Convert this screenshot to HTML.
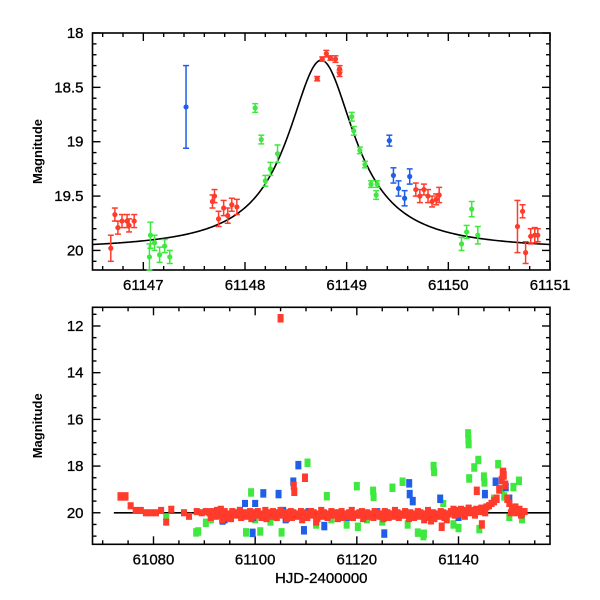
<!DOCTYPE html>
<html><head><meta charset="utf-8"><style>
html,body{margin:0;padding:0;background:#fff;}
svg{display:block;font-family:"Liberation Sans","DejaVu Sans",sans-serif;}
</style></head><body>
<svg id="chart" width="600" height="600" viewBox="0 0 600 600" xmlns="http://www.w3.org/2000/svg">
<rect width="600" height="600" fill="#fff"/>
</svg>
<script>
// ---------- TOP PANEL DATA ----------
const topRedT=[61146.68,61146.72,61146.75,61146.79,61146.84,61146.86,61146.91,61147.68,61147.70,61147.74,61147.79,61147.83,61147.87,61147.92,61148.71,61148.76,61148.80,61148.84,61148.89,61148.93,61148.93,61149.68,61149.72,61149.76,61149.80,61149.84,61149.88,61149.91,61150.68,61150.73,61150.76,61150.81,61150.85,61150.88];
const topRedM=[19.98,19.67,19.79,19.73,19.73,19.77,19.73,19.55,19.50,19.71,19.61,19.68,19.58,19.60,18.42,18.24,18.19,18.23,18.24,18.33,18.37,19.44,19.50,19.44,19.50,19.55,19.53,19.49,19.78,19.64,20.02,19.87,19.86,19.86];
const topRedE=[0.12,0.06,0.06,0.06,0.06,0.06,0.06,0.06,0.06,0.07,0.07,0.07,0.06,0.07,0.02,0.02,0.03,0.02,0.03,0.03,0.03,0.06,0.06,0.05,0.06,0.05,0.05,0.07,0.24,0.06,0.1,0.07,0.07,0.06];
const topGreenT=[61148.10,61148.16,61148.20,61148.25,61148.32,61147.07,61147.06,61147.11,61147.16,61147.21,61147.26,61149.05,61149.07,61149.13,61149.18,61149.24,61149.30,61149.29,61150.13,61150.18,61150.23,61150.29];
const topGreenM=[18.69,18.98,19.36,19.25,19.11,19.86,20.06,19.93,20.04,19.96,20.06,18.77,18.90,19.08,19.21,19.39,19.39,19.49,19.94,19.83,19.62,19.86];
const topGreenE=[0.04,0.04,0.05,0.06,0.08,0.12,0.12,0.07,0.07,0.06,0.06,0.04,0.04,0.03,0.03,0.03,0.03,0.04,0.06,0.06,0.07,0.08];
const topBlueT=[61147.42,61149.42,61149.46,61149.51,61149.57,61149.62];
const topBlueM=[18.68,18.99,19.31,19.43,19.52,19.32];
const topBlueE=[0.38,0.05,0.07,0.07,0.07,0.07];
const modelBase=20.0, modelAmp=1.75, modelT0=61148.75, modelW=0.404;

// ---------- BOTTOM PANEL DATA ----------
const botRedT=[61073.5,61074.5,61075.5,61076.5,61077.5,61078.5,61079.5,61080.5,61081.5,61082.5,61083.5,61086,61087,61088.5,61089.5,61090.3,
61091,61091.5,61092,61092.5,61093,61093.5,61094,61094.5,61095,61095.5,61096,61096.5,61097,61097.5,61098,61098.5,61099,61099.5,61100,61100.5,
61101,61101.5,61102,61102.5,61103,61103.5,61104,61104.5,61105,61105.5,61106,61106.5,61107,61107.5,61108,61108.5,61109,61109.5,61110,61110.5,
61111,61111.5,61112,61112.5,61113,61113.5,61114,61114.5,61115,61115.5,61116,61116.5,61117,61117.5,61118,61118.5,61119,61119.5,61120,61120.5,
61121,61121.5,61122,61122.5,61123,61123.5,61124,61124.5,61125,61125.5,61126,61126.5,61127,61127.5,61128,61128.5,61129,61129.5,61130,61130.5,
61131,61131.5,61132,61132.5,61133,61133.5,61134,61134.5,61135,61135.5,61136,61136.5,61137,61137.5,61138,
61138.5,61139,61139.5,61140,61140.5,61141,61141.5,61142,61142.5,61143,61143.5,61144,61144.5,61145,61145.5,61146,
61146.5,61147,61147.5,61148,61148.5,61148.7,61148.8,61148.9,61149.2,61149.6,61150,61150.3,61150.5,61151,61151.2,61151.5,61152,61152.3,61152.5,61153,
61105,61109.8,61107.7,61107.6,61136.7,61134.6,61144.6,61143.6,61137.7,61093.5,61112];
const botRedM=[19.3,19.3,19.7,19.9,19.9,20.0,20.0,20.0,19.9,20.4,19.85,20.0,20.15,19.95,20.0,19.95,
20.0,19.95,20.05,19.9,20.1,20.0,19.95,20.05,20.1,19.95,
20.0,20.05,19.9,20.1,20.0,20.05,19.95,20.15,20.0,19.95,
20.05,20.1,19.9,20.0,20.05,19.95,20.1,20.0,19.9,20.05,
20.0,20.1,19.95,20.0,20.05,20.1,19.95,20.0,20.15,20.05,
19.95,20.0,20.1,20.05,19.9,20.0,20.05,20.1,19.95,20.0,
20.05,20.0,19.95,20.1,20.05,20.0,19.9,20.05,20.1,20.0,
19.95,20.05,20.0,20.1,20.05,19.95,20.0,20.15,20.05,19.95,
20.0,20.1,20.05,19.9,20.0,20.05,20.1,19.95,20.05,20.0,
20.1,20.05,19.95,20.0,20.1,20.05,19.9,20.05,20.0,20.1,
20.05,19.95,20.0,20.1,20.05,
19.95,19.85,20.0,19.9,19.85,19.95,19.9,19.8,19.95,19.9,19.85,19.9,19.8,19.85,19.75,19.7,
19.6,19.5,19.4,19.0,18.6,18.3,18.25,18.4,18.8,19.4,19.6,20.0,19.8,19.9,19.75,20.0,19.85,20.1,20.05,19.95,
11.67,18.5,19.1,18.85,20.6,20.35,20.5,19.06,20.3,20.3,20.4];
const botRed2T=[61091.25,61092.25,61093.25,61094.25,61095.25,61096.25,61097.25,61098.25,61099.25,61100.25,61101.25,61102.25,61103.25,61104.25,61105.25,61106.25,61107.25,61108.25,61109.25,61110.25,61111.25,61112.25,61113.25,61114.25,61115.25,61116.25,61117.25,61118.25,61119.25,61120.25,61121.25,61122.25,61123.25,61124.25,61125.25,61126.25,61127.25,61128.25,61129.25,61130.25,61131.25,61132.25,61133.25,61134.25,61135.25,61136.25,61137.25,61139.25,61140.25,61141.25,61142.25,61143.25,61144.25,61145.25];
const botRed2M=[20.2,20.15,19.85,20.2,20.25,20.1,20.2,20.15,20.25,20.1,20.2,20.25,20.15,20.2,20.1,20.25,20.2,20.15,20.3,20.2,20.1,20.25,20.15,20.2,20.1,20.25,20.2,20.15,20.2,20.1,20.25,20.15,20.2,20.1,20.25,20.2,20.15,20.2,20.1,20.25,20.2,20.15,20.3,20.2,20.25,20.15,20.2,20.1,20.05,20.15,20.0,20.1,19.95,20.0];
const botBlueT=[61093.6,61094,61097,61098,61099.5,61099.6,61100,61101.6,61102.5,61104.6,61105.5,61106,61107.5,61108.5,61109.6,61110.5,61113.6,61115,61118,61121,61124,61125.4,61126,61128,61130.3,61130.4,61131,61133,61136.4,61138,61140,61145.2,61146.5,61147.3,61149.3,61150,61152];
const botBlueM=[20.36,20.3,19.9,19.6,20.86,20.2,19.6,19.17,20.1,19.2,19.9,20.3,18.67,17.96,20.75,19.95,20.57,20.0,20.2,20.1,19.95,20.89,20.2,20.05,18.74,19.2,19.5,20.1,19.4,20.05,20.2,19.2,19.6,18.67,18.9,19.4,19.9];
const botGreenT=[61082.5,61088.4,61088.8,61090.3,61091.3,61095,61098.2,61099.2,61100,61101,61103,61105.2,61106,61110.3,61112,61114.1,61115,61118,61120,61120.2,61122,61123.2,61123.3,61125,61127,61129,61130,61132,61133.1,61133.2,61135.1,61135.2,61137,61139,61140,61141.9,61141.95,61142,61142.1,61143.1,61143.9,61144.1,61145,61145.1,61146,61147,61147.8,61148.5,61149,61150,61150.8,61151.9,61152.5];
const botGreenM=[20.17,20.84,20.8,20.43,20.3,20.2,20.84,19.13,20.3,20.8,20.4,20.84,20.2,17.86,20.5,19.29,20.3,20.5,18.86,20.6,20.3,19.06,19.32,20.4,18.93,18.67,20.5,20.85,21.0,20.9,18.0,18.25,19.6,20.5,20.65,16.6,16.86,17.06,18.53,18.06,17.74,20.7,18.45,18.7,19.7,19.4,17.92,19.0,19.3,20.2,18.9,18.63,20.3];

const topXTicks=["61147","61148","61149","61150","61151"];
const topYTicks=["18","18.5","19","19.5","20"];
const botXTicks=["61080","61100","61120","61140"];
const botYTicks=["12","14","16","18","20"];

const RED="#ff3b2b", GREEN="#3ee83e", BLUE="#1f5fe8";
const svg=document.getElementById('chart');
const NS="http://www.w3.org/2000/svg";
function mk(tag,attrs,parent){const e=document.createElementNS(NS,tag);for(const k in attrs)e.setAttribute(k,attrs[k]);(parent||svg).appendChild(e);return e;}

const L=92.5,R=550;
const pTop={t:33,b:270,x0:61146.5,x1:61151,y0:18,y1:20.18};
const pBot={t:307.3,b:544.3,x0:61068,x1:61158,y0:11.2,y1:21.35};
function sx(p,v){return L+(v-p.x0)/(p.x1-p.x0)*(R-L);}
function sy(p,v){return p.t+(v-p.y0)/(p.y1-p.y0)*(p.b-p.t);}

function axes(p,name,xMaj,xMin,yMaj,yMin,xLabels,yLabels){
  const g=mk('g',{});
  
  
  const f=mk('rect',{x:L,y:p.t,width:R-L,height:p.b-p.t,fill:'none',stroke:'#000','stroke-width':1.6},g);
  
  
  const eps=1e-6;
  const nx0=Math.ceil(p.x0/xMin-eps), nx1=Math.floor(p.x1/xMin+eps);
  for(let k=nx0;k<=nx1;k++){
    const v=k*xMin;
    const major=Math.abs(v/xMaj-Math.round(v/xMaj))<1e-4;const len=major?8:4;const x=sx(p,v);
    mk('line',{x1:x,x2:x,y1:p.b,y2:p.b-len,stroke:'#000','stroke-width':1.4},g);
    mk('line',{x1:x,x2:x,y1:p.t,y2:p.t+len,stroke:'#000','stroke-width':1.4},g);
  }
  const ny0=Math.ceil(p.y0/yMin-eps), ny1=Math.floor(p.y1/yMin+eps);
  for(let k=ny0;k<=ny1;k++){
    const v=k*yMin;
    const major=Math.abs(v/yMaj-Math.round(v/yMaj))<1e-4;const len=major?8:4;const y=sy(p,v);
    mk('line',{x1:L,x2:L+len,y1:y,y2:y,stroke:'#000','stroke-width':1.4},g);
    mk('line',{x1:R,x2:R-len,y1:y,y2:y,stroke:'#000','stroke-width':1.4},g);
  }
  xLabels.forEach(s=>{const t=mk('text',{x:sx(p,+s),y:p.b+20,'font-size':15,'text-anchor':'middle','stroke':'#000','stroke-width':0.3},g);t.textContent=s;
    
    });
  yLabels.forEach(s=>{const t=mk('text',{x:L-9,y:sy(p,+s)+5,'font-size':15,'text-anchor':'end','stroke':'#000','stroke-width':0.3},g);t.textContent=s;
    
    });
  const yl=mk('text',{x:0,y:0,'font-size':13,'font-weight':'bold','text-anchor':'middle',transform:`translate(42,${(p.t+p.b)/2}) rotate(-90)`},g);
  yl.textContent='Magnitude';
  
  
}

function series(p,T,M,E,color,shape,name){
  const g=mk('g',{});
  
  
  for(let i=0;i<T.length;i++){
    const x=sx(p,T[i]),y=sy(p,M[i]);const e=E?E[i]:(Math.abs(M[i]-20)>0.4?0.15:0.12);
    const y1=sy(p,M[i]-e),y2=sy(p,M[i]+e);
    if(x<L||x>R)continue;
    mk('line',{x1:x,x2:x,y1:y1,y2:y2,stroke:color,'stroke-width':1.5},g);
    mk('line',{x1:x-3,x2:x+3,y1:y1,y2:y1,stroke:color,'stroke-width':1.5},g);
    mk('line',{x1:x-3,x2:x+3,y1:y2,y2:y2,stroke:color,'stroke-width':1.5},g);
    let m;
    if(shape==='c') m=mk('circle',{cx:x,cy:y,r:2.6,fill:color},g);
    else m=mk('rect',{x:x-3,y:y-3,width:6,height:6,fill:color},g);
    
    
  }
}

// Top panel
axes(pTop,'top-panel',1,0.2,0.5,0.1,topXTicks,topYTicks);
let d='';
for(let i=0;i<=400;i++){const t=pTop.x0+(pTop.x1-pTop.x0)*i/400;const m=modelBase-modelAmp/(1+Math.pow((t-modelT0)/modelW,2));d+=(i?'L':'M')+sx(pTop,t).toFixed(2)+','+sy(pTop,m).toFixed(2);}
const model=mk('path',{d:d,fill:'none',stroke:'#000','stroke-width':1.6});


series(pTop,topGreenT,topGreenM,topGreenE,GREEN,'c','top-green-series');
series(pTop,topBlueT,topBlueM,topBlueE,BLUE,'c','top-blue-series');
series(pTop,topRedT,topRedM,topRedE,RED,'c','top-red-series');

// Bottom panel
axes(pBot,'bottom-panel',20,5,2,0.5,botXTicks,botYTicks);
const bl=mk('line',{x1:sx(pBot,61072.2),x2:R,y1:sy(pBot,20),y2:sy(pBot,20),stroke:'#000','stroke-width':1.6});


series(pBot,botGreenT,botGreenM,null,GREEN,'s','bottom-green-series');
series(pBot,botBlueT,botBlueM,null,BLUE,'s','bottom-blue-series');
series(pBot,botRed2T,botRed2M,null,RED,'s','bottom-red-series-b');
series(pBot,botRedT,botRedM,null,RED,'s','bottom-red-series');
const xt=mk('text',{x:(L+R)/2,y:583,'font-size':15,'text-anchor':'middle','stroke':'#000','stroke-width':0.3});
xt.textContent='HJD-2400000';


</script>
</body></html>
